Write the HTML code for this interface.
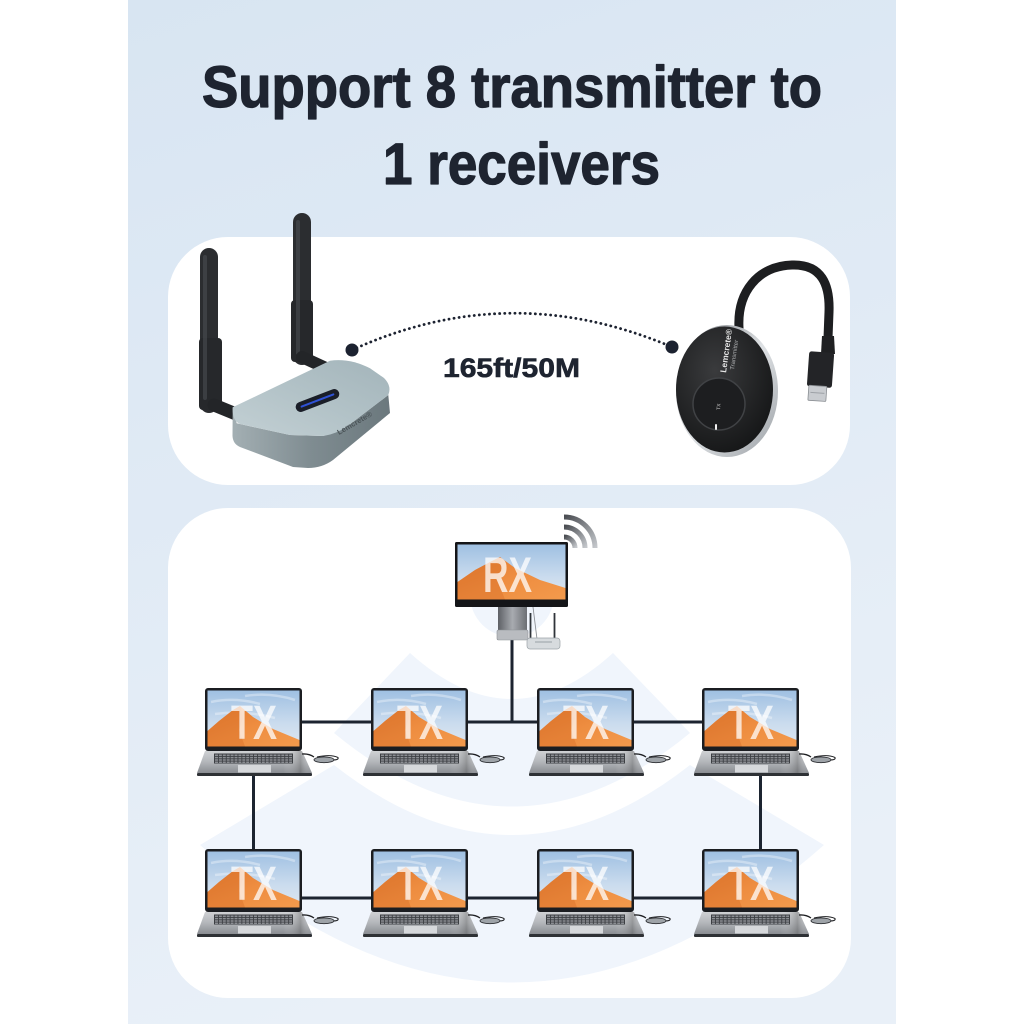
<!DOCTYPE html>
<html>
<head>
<meta charset="utf-8">
<style>
html,body{margin:0;padding:0;background:#ffffff;}
svg{display:block;}
text{font-family:"Liberation Sans",Arial,sans-serif;}
</style>
</head>
<body>
<svg width="1024" height="1024" viewBox="0 0 1024 1024" xmlns="http://www.w3.org/2000/svg">
<defs>
  <linearGradient id="band" x1="0" y1="0" x2="0.25" y2="1">
    <stop offset="0" stop-color="#d8e5f2"/>
    <stop offset="1" stop-color="#e9f0f8"/>
  </linearGradient>
  <linearGradient id="sky" x1="0" y1="0" x2="0" y2="1">
    <stop offset="0" stop-color="#9fc0e2"/>
    <stop offset="0.6" stop-color="#cbdcee"/>
    <stop offset="1" stop-color="#dde7f1"/>
  </linearGradient>
  <linearGradient id="dune" x1="0" y1="0" x2="1" y2="1">
    <stop offset="0" stop-color="#e0782e"/>
    <stop offset="0.5" stop-color="#ee8d40"/>
    <stop offset="1" stop-color="#f39a4c"/>
  </linearGradient>
  <linearGradient id="silver" x1="0" y1="0" x2="0" y2="1">
    <stop offset="0" stop-color="#cfd1d4"/>
    <stop offset="0.5" stop-color="#b3b6ba"/>
    <stop offset="1" stop-color="#8a8d92"/>
  </linearGradient>
  <linearGradient id="silverH" x1="0" y1="0" x2="1" y2="0">
    <stop offset="0" stop-color="#ffffff" stop-opacity="0"/>
    <stop offset="0.75" stop-color="#ffffff" stop-opacity="0"/>
    <stop offset="0.9" stop-color="#555" stop-opacity="0.35"/>
    <stop offset="1" stop-color="#ffffff" stop-opacity="0"/>
  </linearGradient>
  <linearGradient id="boxTop" x1="0" y1="1" x2="1" y2="0">
    <stop offset="0" stop-color="#c3d0d4"/>
    <stop offset="0.5" stop-color="#b2c2c7"/>
    <stop offset="1" stop-color="#a3b4ba"/>
  </linearGradient>
  <linearGradient id="boxSide" x1="0" y1="0" x2="1" y2="0">
    <stop offset="0" stop-color="#a3afb3"/>
    <stop offset="0.5" stop-color="#7f8c91"/>
    <stop offset="1" stop-color="#6b787d"/>
  </linearGradient>
  <linearGradient id="rim" x1="0" y1="0" x2="1" y2="1">
    <stop offset="0" stop-color="#6d7176"/>
    <stop offset="0.5" stop-color="#dfe2e5"/>
    <stop offset="1" stop-color="#9a9fa4"/>
  </linearGradient>
  <radialGradient id="puck" cx="0.4" cy="0.35" r="0.7">
    <stop offset="0" stop-color="#3a3b3d"/>
    <stop offset="1" stop-color="#151617"/>
  </radialGradient>
  <linearGradient id="stand" x1="0" y1="0" x2="1" y2="0">
    <stop offset="0" stop-color="#5d6065"/>
    <stop offset="0.5" stop-color="#a8abb0"/>
    <stop offset="1" stop-color="#6c6f74"/>
  </linearGradient>
  <linearGradient id="wifi" x1="0" y1="0" x2="1" y2="1">
    <stop offset="0" stop-color="#4a4d52"/>
    <stop offset="1" stop-color="#c4c7cb"/>
  </linearGradient>
  <clipPath id="p2clip"><rect x="168" y="508" width="683" height="490" rx="60"/></clipPath>

  <g id="lap">
    <rect x="0" y="0" width="97" height="63" rx="3" fill="#1b1d21"/>
    <rect x="2.5" y="2.5" width="92" height="56" fill="url(#sky)"/>
    <path d="M6 14 Q30 9 55 16 M40 8 Q65 4 90 12 M10 26 Q40 22 70 30" stroke="#ffffff" stroke-opacity="0.35" stroke-width="2.5" fill="none"/>
    <polygon points="2.5,43 14,33 28,22 35,18 48,29 68,41 94.5,52 94.5,58.5 2.5,58.5" fill="url(#dune)"/>
    <polygon points="35,18 38,30 34,42 40,58.5 2.5,58.5 2.5,43 14,33 28,22" fill="#d9722a" opacity="0.45"/>
    <polygon points="0,63 97,63 107,85 -8,85" fill="url(#silver)"/>
    <polygon points="0,63 97,63 107,85 -8,85" fill="url(#silverH)"/>
    <rect x="-8" y="85" width="115" height="3" rx="1" fill="#2e3135"/>
    <rect x="9" y="65.5" width="79" height="10" fill="#3c3f43"/>
    <g stroke="#8b8e93" stroke-width="1.5" stroke-dasharray="3 0.9">
      <line x1="10" y1="67.2" x2="87" y2="67.2"/>
      <line x1="10" y1="69.6" x2="87" y2="69.6"/>
      <line x1="10" y1="72" x2="87" y2="72"/>
      <line x1="10" y1="74.3" x2="87" y2="74.3"/>
    </g>
    <rect x="33" y="77" width="33" height="7.5" fill="#d6d8db"/>
    <path d="M97 66 Q104 65.5 109 69" stroke="#1e1f22" stroke-width="1.3" fill="none"/>
    <path d="M112 69 Q126 66 133 69.5 Q134 72 128 72" stroke="#1e1f22" stroke-width="1" fill="none"/>
    <ellipse cx="119" cy="71.8" rx="10" ry="2.9" fill="#9ea3a8" stroke="#2d2f33" stroke-width="0.9"/>
  </g>
</defs>

<!-- background band -->
<rect x="128" y="0" width="768" height="1024" fill="url(#band)"/>

<!-- title -->
<g fill="#1e2430" stroke="#1e2430" stroke-width="1.3" stroke-linejoin="round">
<text x="202" y="107" font-size="58" font-weight="bold" textLength="620" lengthAdjust="spacingAndGlyphs">Support 8 transmitter to</text>
<text x="383" y="184" font-size="58" font-weight="bold" textLength="277" lengthAdjust="spacingAndGlyphs">1 receivers</text>
</g>

<!-- panel 1 -->
<rect x="168" y="237" width="682" height="248" rx="60" fill="#ffffff"/>

<!-- dotted link -->
<path d="M352 350 Q510 278 672 347" fill="none" stroke="#1c2230" stroke-width="2.8" stroke-linecap="round" stroke-dasharray="0.1 5"/>
<circle cx="352" cy="350" r="6.5" fill="#1c2230"/>
<circle cx="672" cy="347" r="6.5" fill="#1c2230"/>
<text x="443" y="377" font-size="27" font-weight="bold" fill="#1e2430" stroke="#1e2430" stroke-width="0.6" textLength="137" lengthAdjust="spacingAndGlyphs">165ft/50M</text>

<!-- receiver device -->
<g>
  <rect x="293" y="213" width="18" height="152" rx="9" fill="#2b2d30"/>
  <rect x="291" y="300" width="22" height="62" rx="4" fill="#26282b"/>
  <rect x="296" y="220" width="4" height="135" rx="2" fill="#4a4d51" opacity="0.6"/>
  <line x1="302" y1="357" x2="328" y2="369" stroke="#232528" stroke-width="12" stroke-linecap="round"/>
  <rect x="200" y="248" width="18" height="165" rx="9" fill="#2b2d30"/>
  <rect x="199" y="338" width="23" height="72" rx="4" fill="#26282b"/>
  <rect x="203" y="255" width="4" height="145" rx="2" fill="#4a4d51" opacity="0.6"/>
  <line x1="214" y1="405" x2="236" y2="414" stroke="#232528" stroke-width="13" stroke-linecap="round"/>
  <path d="M232.7 407.3 L236.7 423.3 L290 435 L323.3 436 L346.7 426.7 L388.3 395 L390 413 L333 460 Q322 468 308 468 L293 467 L240 447 Q233 444 232.5 436 Z" fill="url(#boxSide)"/>
  <path d="M232.7 407.3 L330 360.7 Q350 358 370 368.3 L384 378 Q392 386 388.3 395 L346.7 426.7 Q336 434 323.3 436 L290 435 L240 424 Q232 421 232.7 407.3 Z" fill="url(#boxTop)"/>
  <g transform="translate(317.5 400.5) rotate(-21)">
    <rect x="-23" y="-5" width="46" height="10" rx="5" fill="#1a1e28"/>
    <rect x="-18" y="-1" width="36" height="2" rx="1" fill="#2f52d6"/>
  </g>
  <text transform="translate(339 435) rotate(-30)" font-size="7.5" font-weight="bold" fill="#4b5458">Lemcrete®</text>
</g>

<!-- transmitter -->
<g>
  <path d="M739 328 C737 292 758 266 792 265 C822 264 830 285 829 312 L828 338" fill="none" stroke="#1d1e20" stroke-width="9" stroke-linecap="round"/>
  <polygon points="822,336 834,336 835,354 821,354" fill="#1f2022"/>
  <g transform="rotate(4 820 370)">
    <rect x="808" y="352" width="25" height="35" rx="2.5" fill="#232427"/>
    <rect x="810" y="386" width="18" height="15" rx="1" fill="#c9ccd0" stroke="#8a8e93" stroke-width="0.8"/>
    <line x1="812" y1="393" x2="826" y2="393" stroke="#9da1a6" stroke-width="1"/>
  </g>
  <ellipse cx="727" cy="391" rx="51" ry="66" fill="url(#rim)"/>
  <ellipse cx="724.5" cy="389.5" rx="48.5" ry="63" fill="url(#puck)"/>
  <circle cx="719" cy="404" r="26" fill="#1d1e20" stroke="#404245" stroke-width="1.5"/>
  <text transform="translate(720 410) rotate(-85)" font-size="5" fill="#cfcfcf">TX</text>
  <rect x="715" y="424" width="2" height="6" rx="1" fill="#f2f2f2"/>
  <text transform="translate(726 373) rotate(-82)" font-size="8.5" font-weight="bold" fill="#e4e4e4">Lemcrete®</text>
  <text transform="translate(734 370) rotate(-82)" font-size="6" fill="#a9abad">Transmitter</text>
</g>

<!-- panel 2 -->
<rect x="168" y="508" width="683" height="490" rx="60" fill="#ffffff"/>
<g clip-path="url(#p2clip)" fill="#f0f5fc">
  <circle cx="512" cy="595" r="42"/>
  <path d="M410 653 L334 733 Q512 880 690 733 L613 653 Q512 745 410 653 Z"/>
  <path d="M334 765 L200 845 Q512 1120 824 845 L690 765 Q512 905 334 765 Z"/>
</g>

<!-- connectors -->
<g stroke="#1c2430" stroke-width="3" fill="none">
  <line x1="300" y1="722" x2="705" y2="722"/>
  <line x1="300" y1="898" x2="705" y2="898"/>
  <line x1="253.5" y1="774" x2="253.5" y2="851"/>
  <line x1="760.5" y1="774" x2="760.5" y2="851"/>
  <line x1="512" y1="640" x2="512" y2="722"/>
</g>

<!-- RX monitor -->
<g>
  <rect x="498" y="605" width="29" height="28" fill="url(#stand)"/>
  <rect x="497" y="630" width="31" height="10" rx="1.5" fill="#b9bcc0" stroke="#8e9196" stroke-width="0.6"/>
  <rect x="455" y="542" width="113" height="65" rx="1.5" fill="#141518"/>
  <rect x="457.5" y="544.5" width="108" height="55" fill="url(#sky)"/>
  <polygon points="457.5,582 475,570 492,561 500,557 515,568 540,580 565.5,588 565.5,599.5 457.5,599.5" fill="url(#dune)"/>
  <polygon points="500,557 503,570 498,582 505,599.5 457.5,599.5 457.5,582 475,570 492,561" fill="#d9722a" opacity="0.45"/>
  <text x="483" y="592" font-size="50" font-weight="bold" fill="#ffffff" fill-opacity="0.75" textLength="49" lengthAdjust="spacingAndGlyphs">RX</text>
  <line x1="533" y1="607" x2="537" y2="639" stroke="#8b8f94" stroke-width="0.9"/>
  <line x1="530.5" y1="613" x2="530.5" y2="641" stroke="#30343a" stroke-width="1.8"/>
  <line x1="554.5" y1="613" x2="554.5" y2="641" stroke="#30343a" stroke-width="1.8"/>
  <rect x="527" y="638" width="33" height="11" rx="3" fill="#d7dbde" stroke="#9ca3a8" stroke-width="0.7"/>
  <line x1="535" y1="642" x2="552" y2="642" stroke="#9aa0a5" stroke-width="1"/>
  <g fill="none" stroke="url(#wifi)" stroke-width="5" stroke-linecap="butt">
    <path d="M564 537 A11 11 0 0 1 575 548"/>
    <path d="M564 527 A21 21 0 0 1 585 548"/>
    <path d="M564 517 A31 31 0 0 1 595 548"/>
  </g>
</g>

<!-- laptops -->
<use href="#lap" x="205" y="688"/>
<use href="#lap" x="371" y="688"/>
<use href="#lap" x="537" y="688"/>
<use href="#lap" x="702" y="688"/>
<use href="#lap" x="205" y="849"/>
<use href="#lap" x="371" y="849"/>
<use href="#lap" x="537" y="849"/>
<use href="#lap" x="702" y="849"/>

<g font-size="48" font-weight="bold" fill="#ffffff" fill-opacity="0.74">
  <text x="231" y="739" textLength="46" lengthAdjust="spacingAndGlyphs">TX</text>
  <text x="397" y="739" textLength="46" lengthAdjust="spacingAndGlyphs">TX</text>
  <text x="563" y="739" textLength="46" lengthAdjust="spacingAndGlyphs">TX</text>
  <text x="728" y="739" textLength="46" lengthAdjust="spacingAndGlyphs">TX</text>
  <text x="231" y="900" textLength="46" lengthAdjust="spacingAndGlyphs">TX</text>
  <text x="397" y="900" textLength="46" lengthAdjust="spacingAndGlyphs">TX</text>
  <text x="563" y="900" textLength="46" lengthAdjust="spacingAndGlyphs">TX</text>
  <text x="728" y="900" textLength="46" lengthAdjust="spacingAndGlyphs">TX</text>
</g>
</svg>
</body>
</html>
